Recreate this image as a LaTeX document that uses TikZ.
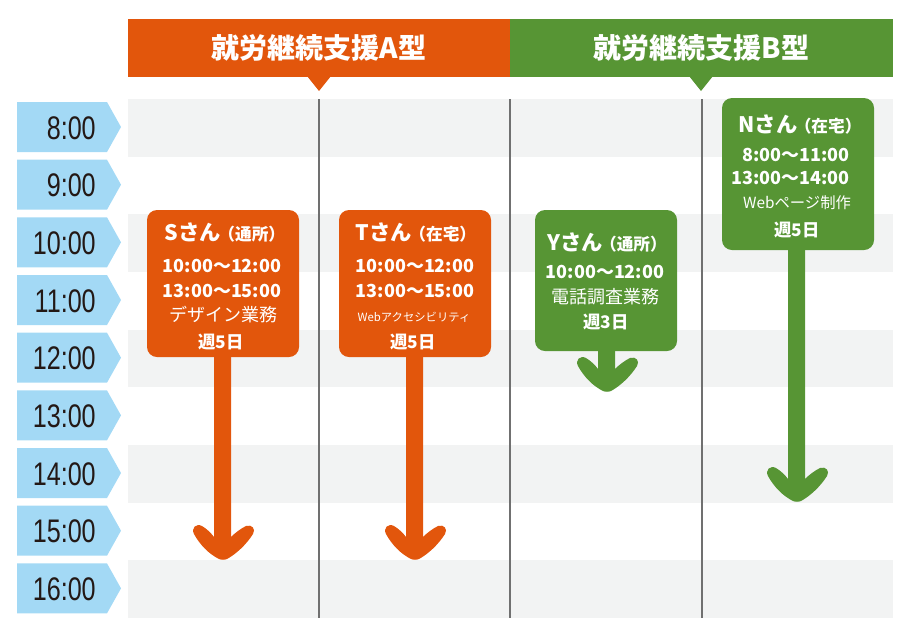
\documentclass[tikz,border=0pt]{standalone}
\usepackage{fontspec}
\newfontfamily\jp{Noto Sans CJK JP}
\newfontfamily\tlf{Liberation Sans}[FakeStretch=0.77]
\newcommand\fs[1]{\fontsize{#1}{#1}\selectfont}
\definecolor{orangeA}{HTML}{E2560C}
\definecolor{greenB}{HTML}{579534}
\definecolor{tlblue}{HTML}{A3D9F5}
\definecolor{stripe}{HTML}{F2F3F3}
\definecolor{divider}{HTML}{707070}
\definecolor{tltext}{HTML}{231815}
\newcommand\bentarrow[3]{%
  \begin{scope}[shift={(#2)}]
    \fill[#1] (-4,-1) .. controls (-14,-6) and (-23,-15) .. (-29,-26)
      .. controls (-32,-32) and (-27,-37) .. (-21,-34)
      .. controls (-16,-31) and (-12,-27) .. (-9,-23) -- (-9,-#3) -- (8,-#3) -- (8,-23)
      .. controls (12,-27) and (17,-31) .. (23,-34)
      .. controls (29,-36) and (33,-31) .. (30,-26)
      .. controls (23,-15) and (13,-6) .. (4,-1)
      .. controls (2,0) and (-2,0) .. (-4,-1) -- cycle;
  \end{scope}}
\begin{document}
\begin{tikzpicture}[x=0.75pt,y=-0.75pt,
  card/.style={rounded corners=7.5pt, inner sep=0pt},
  wt/.style={text=white, inner sep=0pt, anchor=center, font=\jp},
  hdr/.style={inner sep=0pt, minimum height={58*0.75pt}, text=white, font={\jp\bfseries\fs{21}}},
  tl/.style={inner sep=0pt, anchor=east, text=tltext, font={\tlf\fs{24.5}}}]
\useasboundingbox (0,0) rectangle (909,640);
% stripes
\foreach \i in {0,2,4,6,8}
  \fill[stripe] (128,{99+57.67*\i}) rectangle (893,{99+57.67*(\i+1)});
% dividers
\foreach \x in {319,510,702}
  \draw[divider, line width=1.1pt] (\x,99) -- (\x,618);
% headers
\node[hdr, fill=orangeA, minimum width={382*0.75pt}] (hdrA) at (319,48) {就労継続支援A型};
\node[hdr, fill=greenB, minimum width={383*0.75pt}] (hdrB) at (701.5,48) {就労継続支援B型};
\fill[orangeA] (307,76) -- (331,76) -- (319,91) -- cycle;
\fill[greenB] (689,76) -- (713,76) -- (701,91) -- cycle;
% time labels
\foreach \i/\t in {0/8:00,1/9:00,2/10:00,3/11:00,4/12:00,5/13:00,6/14:00,7/15:00,8/16:00}{
  \fill[tlblue] (17,{102+57.67*\i}) -- (107,{102+57.67*\i}) -- (121,{127+57.67*\i})
     -- (107,{152+57.67*\i}) -- (17,{152+57.67*\i}) -- cycle;
  \node[tl] (time\i) at (96,{128+57.67*\i}) {\t};
}
% arrow tips
\coordinate (tipS) at (223,560);
\coordinate (tipT) at (415,560);
\coordinate (tipY) at (607,392);
\coordinate (tipN) at (797,502);
\bentarrow{orangeA}{tipS}{205}
\bentarrow{orangeA}{tipT}{205}
\bentarrow{greenB}{tipY}{45}
\bentarrow{greenB}{tipN}{255}
% cards
\node[card, fill=orangeA, minimum width={152*0.75pt}, minimum height={147*0.75pt}] (S) at (223,283.5) {};
\node[card, fill=orangeA, minimum width={152*0.75pt}, minimum height={147*0.75pt}] (T) at (415,283.5) {};
\node[card, fill=greenB, minimum width={142*0.75pt}, minimum height={141*0.75pt}] (Y) at (606,280.5) {};
\node[card, fill=greenB, minimum width={152*0.75pt}, minimum height={152*0.75pt}] (N) at (798,174) {};
% card S
\node[wt] (Sname) at (225,233) {\bfseries\fs{16}Sさん\kern-2pt\fs{12.5}（通所）};
\node[wt] (St1) at (222,266) {\bfseries\fs{13.5}10:00～12:00};
\node[wt] (St2) at (222,291) {\bfseries\fs{13.5}13:00～15:00};
\node[wt] (Sjob) at (223,315) {\fs{13.5}デザイン業務};
\node[wt] (Sday) at (221,342) {\bfseries\fs{13}週5日};
% card T
\node[wt] (Tname) at (416,233) {\bfseries\fs{16}Tさん\kern-2pt\fs{12.5}（在宅）};
\node[wt] (Tt1) at (415,266) {\bfseries\fs{13.5}10:00～12:00};
\node[wt] (Tt2) at (415,291) {\bfseries\fs{13.5}13:00～15:00};
\node[wt] (Tjob) at (414,317) {\fs{8.5}Webアクセシビリティ};
\node[wt] (Tday) at (413,342) {\bfseries\fs{13}週5日};
% card Y
\node[wt] (Yname) at (607,243) {\bfseries\fs{16}Yさん\kern-2pt\fs{12.5}（通所）};
\node[wt] (Yt1) at (605,272) {\bfseries\fs{13.5}10:00～12:00};
\node[wt] (Yjob) at (605,297) {\fs{13.5}電話調査業務};
\node[wt] (Yday) at (606,322) {\bfseries\fs{13}週3日};
% card N
\node[wt] (Nname) at (800,125) {\bfseries\fs{16}Nさん\kern-2pt\fs{12.5}（在宅）};
\node[wt, anchor=east] (Nt1) at (850,155) {\bfseries\fs{13.5}8:00～11:00};
\node[wt, anchor=east] (Nt2) at (850,178) {\bfseries\fs{13.5}13:00～14:00};
\node[wt] (Njob) at (797,203) {\fs{11.5}Webページ制作};
\node[wt] (Nday) at (797,230) {\bfseries\fs{13}週5日};
\end{tikzpicture}
\end{document}
